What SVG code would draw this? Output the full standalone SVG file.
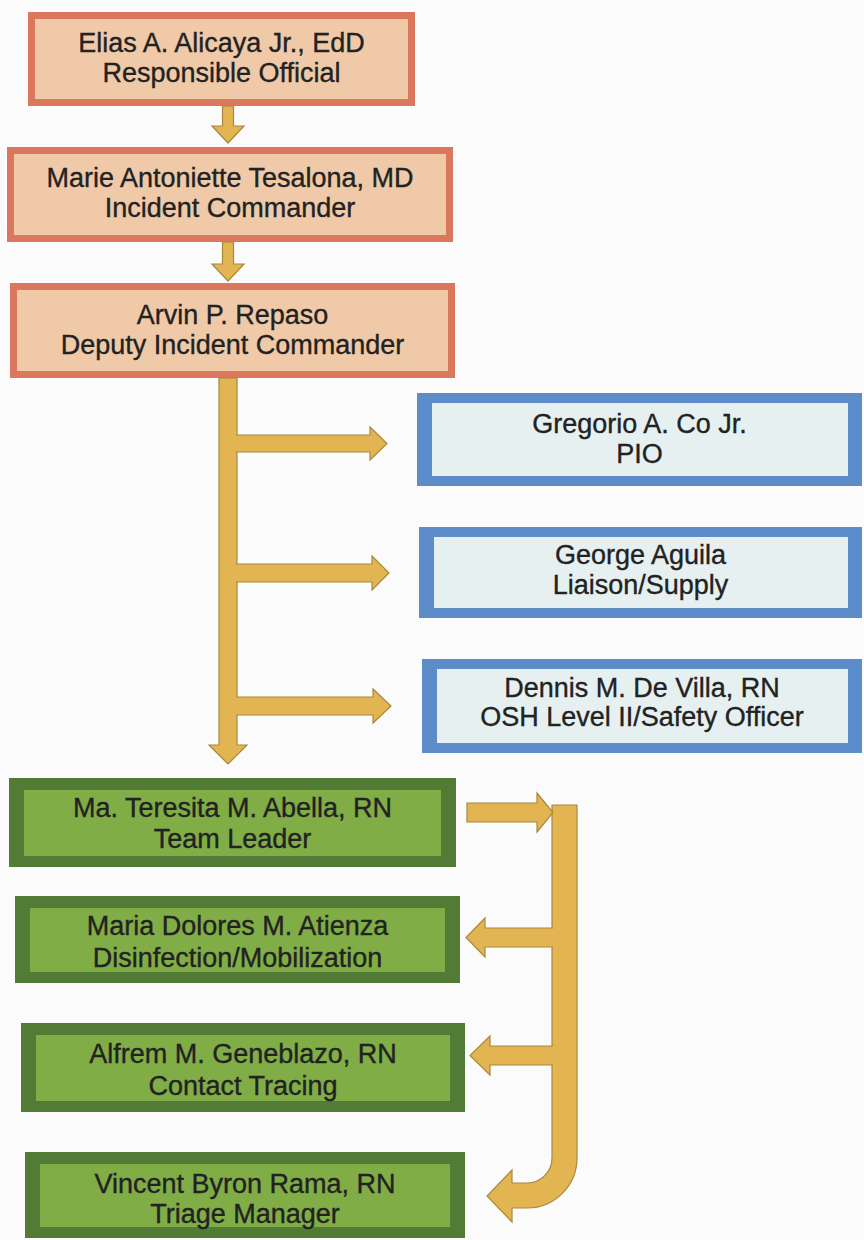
<svg xmlns="http://www.w3.org/2000/svg" width="864" height="1240" viewBox="0 0 864 1240">
  <style>
    .bg { fill: #fbfbfb; }
    .or-edge { fill: #db775c; }
    .or-fill { fill: #f0caa8; }
    .bl-edge { fill: #5c8dca; }
    .bl-fill { fill: #e6f0f1; }
    .gr-edge { fill: #527c35; }
    .gr-fill { fill: #80ad45; }
    .lbl { font-family: "Liberation Sans", Arial, sans-serif; font-size: 27px; fill: #222222; stroke: #222222; stroke-width: 0.35; text-anchor: middle; }
    .arrow { fill: #e2b552; stroke: #a8883e; stroke-width: 1.2; stroke-linejoin: miter; }
    .patch { fill: #e2b552; stroke: none; }
  </style>

  <rect class="bg" x="0" y="0" width="864" height="1240"/>

  <!-- command staff -->
  <g id="node-responsible-official">
    <rect class="or-edge" x="28" y="12" width="387" height="94"/>
    <rect class="or-fill" x="35" y="19" width="373" height="80"/>
    <text class="lbl" x="221.5" y="52">Elias A. Alicaya Jr., EdD</text>
    <text class="lbl" x="221.5" y="82">Responsible Official</text>
  </g>

  <g id="node-incident-commander">
    <rect class="or-edge" x="7" y="147" width="446" height="95"/>
    <rect class="or-fill" x="14" y="154" width="432" height="81"/>
    <text class="lbl" x="230" y="187">Marie Antoniette Tesalona, MD</text>
    <text class="lbl" x="230" y="217">Incident Commander</text>
  </g>

  <g id="node-deputy-incident-commander">
    <rect class="or-edge" x="10" y="283" width="445" height="95"/>
    <rect class="or-fill" x="17" y="290" width="431" height="81"/>
    <text class="lbl" x="232.5" y="324">Arvin P. Repaso</text>
    <text class="lbl" x="232.5" y="354">Deputy Incident Commander</text>
  </g>

  <!-- general staff -->
  <g id="node-pio">
    <rect class="bl-edge" x="417" y="393" width="445" height="93"/>
    <rect class="bl-fill" x="432" y="403" width="416" height="73"/>
    <text class="lbl" x="639.5" y="433">Gregorio A. Co Jr.</text>
    <text class="lbl" x="639.5" y="463">PIO</text>
  </g>

  <g id="node-liaison-supply">
    <rect class="bl-edge" x="419" y="527" width="443" height="91"/>
    <rect class="bl-fill" x="434" y="537" width="414" height="71"/>
    <text class="lbl" x="640.5" y="564">George Aguila</text>
    <text class="lbl" x="640.5" y="594">Liaison/Supply</text>
  </g>

  <g id="node-safety-officer">
    <rect class="bl-edge" x="422" y="659" width="440" height="94"/>
    <rect class="bl-fill" x="437" y="669" width="411" height="74"/>
    <text class="lbl" x="642" y="697">Dennis M. De Villa, RN</text>
    <text class="lbl" x="642" y="726">OSH Level II/Safety Officer</text>
  </g>

  <!-- response team -->
  <g id="node-team-leader">
    <rect class="gr-edge" x="9" y="778" width="447" height="89"/>
    <rect class="gr-fill" x="24" y="790" width="417" height="66"/>
    <text class="lbl" x="232.5" y="817">Ma. Teresita M. Abella, RN</text>
    <text class="lbl" x="232.5" y="848">Team Leader</text>
  </g>

  <g id="node-disinfection">
    <rect class="gr-edge" x="15" y="896" width="445" height="87"/>
    <rect class="gr-fill" x="30" y="908" width="415" height="64"/>
    <text class="lbl" x="237.5" y="935">Maria Dolores M. Atienza</text>
    <text class="lbl" x="237.5" y="967">Disinfection/Mobilization</text>
  </g>

  <g id="node-contact-tracing">
    <rect class="gr-edge" x="21" y="1023" width="444" height="89"/>
    <rect class="gr-fill" x="36" y="1035" width="414" height="66"/>
    <text class="lbl" x="243" y="1063">Alfrem M. Geneblazo, RN</text>
    <text class="lbl" x="243" y="1095">Contact Tracing</text>
  </g>

  <g id="node-triage-manager">
    <rect class="gr-edge" x="25" y="1152" width="440" height="86"/>
    <rect class="gr-fill" x="40" y="1164" width="410" height="63"/>
    <text class="lbl" x="245" y="1193">Vincent Byron Rama, RN</text>
    <text class="lbl" x="245" y="1223">Triage Manager</text>
  </g>

  <!-- connectors -->
  <g id="connectors">
    <!-- chain of command -->
    <path class="arrow" d="M222.5,106 H233.5 V126 H244 L228,143 L212,126 H222.5 Z"/>
    <path class="arrow" d="M222.5,242 H233.5 V264 H244 L228,281 L212,264 H222.5 Z"/>

    <!-- trunk with branches to general staff -->
    <path class="arrow" d="M219,378 H237 V745 H247 L228,764 L209,745 H219 Z"/>
    <path class="arrow" d="M234,435 H370 V427 L387,443.5 L370,460 V452 H234 Z"/>
    <path class="arrow" d="M234,564 H372 V556 L389,573 L372,590 V582 H234 Z"/>
    <path class="arrow" d="M234,697 H373 V689 L391,706 L373,723 V715 H234 Z"/>
    <rect class="patch" x="220" y="380" width="16" height="364"/>

    <!-- team bracket -->
    <path class="arrow" d="M552,805 H577 V1158 A50,50 0 0 1 527,1208 H512 V1222 L487,1196 L512,1170 V1183 H527 A25,25 0 0 0 552,1158 Z"/>
    <path class="arrow" d="M555,928 H485 V918 L466,937.5 L485,957 V947 H555 Z"/>
    <path class="arrow" d="M555,1046 H490 V1036 L470,1055.5 L490,1075 V1065 H555 Z"/>
    <rect class="patch" x="553" y="806" width="23" height="352"/>
    <path class="arrow" d="M467,803 H537 V793 L553,812.5 L537,832 V822 H467 Z"/>
  </g>
</svg>
